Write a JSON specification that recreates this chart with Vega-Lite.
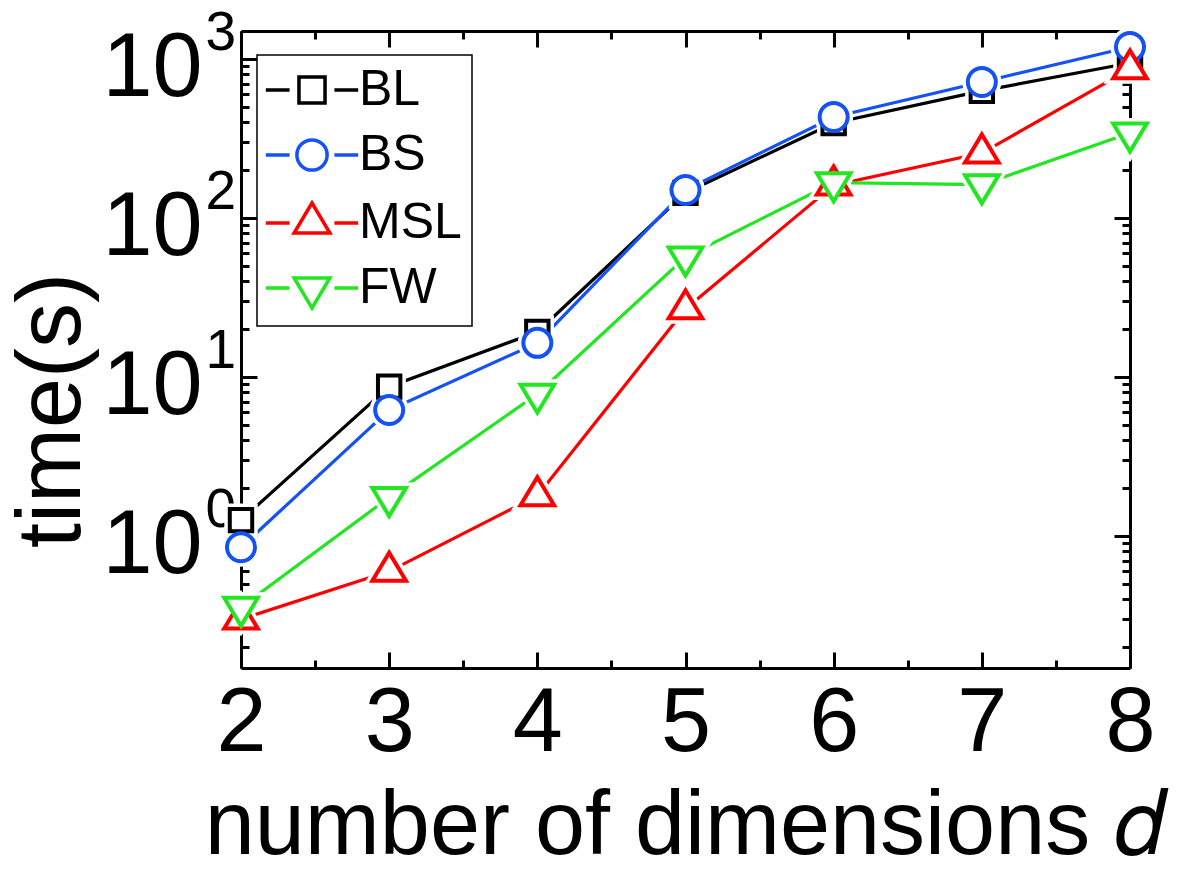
{
  "$schema": "https://vega.github.io/schema/vega-lite/v6.json",
  "width": 889,
  "height": 637,
  "autosize": {"type": "none"},
  "padding": {"left": 241, "top": 31, "right": 54, "bottom": 203},
  "background": "white",
  "data": {
    "values": [
      {"d": 2, "t": 1.26, "s": "BL"}, {"d": 3, "t": 8.7, "s": "BL"}, {"d": 4, "t": 19.2, "s": "BL"}, {"d": 5, "t": 144, "s": "BL"}, {"d": 6, "t": 396, "s": "BL"}, {"d": 7, "t": 630, "s": "BL"}, {"d": 8, "t": 944, "s": "BL"},
      {"d": 2, "t": 0.85, "s": "BS"}, {"d": 3, "t": 6.2, "s": "BS"}, {"d": 4, "t": 16.4, "s": "BS"}, {"d": 5, "t": 150, "s": "BS"}, {"d": 6, "t": 432, "s": "BS"}, {"d": 7, "t": 717, "s": "BS"}, {"d": 8, "t": 1189, "s": "BS"},
      {"d": 2, "t": 0.3, "s": "MSL"}, {"d": 3, "t": 0.6, "s": "MSL"}, {"d": 4, "t": 1.79, "s": "MSL"}, {"d": 5, "t": 26.8, "s": "MSL"}, {"d": 6, "t": 161, "s": "MSL"}, {"d": 7, "t": 256, "s": "MSL"}, {"d": 8, "t": 865, "s": "MSL"},
      {"d": 2, "t": 0.357, "s": "FW"}, {"d": 3, "t": 1.75, "s": "FW"}, {"d": 4, "t": 7.82, "s": "FW"}, {"d": 5, "t": 56.9, "s": "FW"}, {"d": 6, "t": 167, "s": "FW"}, {"d": 7, "t": 162, "s": "FW"}, {"d": 8, "t": 343, "s": "FW"}
    ]
  },
  "encoding": {
    "x": {"field": "d", "type": "quantitative", "scale": {"domain": [2, 8], "nice": false, "zero": false}},
    "y": {"field": "t", "type": "quantitative", "scale": {"type": "log", "domain": [0.148, 1500], "nice": false}}
  },
  "layer": [
    {
      "mark": {"type": "line", "strokeWidth": 3.2, "clip": false},
      "encoding": {
        "x": {
          "field": "d", "type": "quantitative",
          "axis": {
            "orient": "bottom",
            "values": [2, 2.5, 3, 3.5, 4, 4.5, 5, 5.5, 6, 6.5, 7, 7.5, 8],
            "tickSize": {"condition": {"test": "datum.value % 1 === 0", "value": -16}, "value": -8},
            "labelExpr": "datum.value % 1 === 0 ? '' + datum.value : ''",
            "labelBaseline": "alphabetic",
            "labelPadding": 98,
            "title": "number of dimensions 𝑑",
            "titleBaseline": "alphabetic",
            "titleY": 185
          }
        },
        "y": {
          "field": "t", "type": "quantitative",
          "axis": {
            "orient": "left",
            "values": [0.2, 0.3, 0.4, 0.5, 0.6, 0.7, 0.8, 0.9, 1, 2, 3, 4, 5, 6, 7, 8, 9, 10, 20, 30, 40, 50, 60, 70, 80, 90, 100, 200, 300, 400, 500, 600, 700, 800, 900, 1000],
            "tickSize": {"condition": {"test": "abs(log(datum.value)/LN10 - round(log(datum.value)/LN10)) < 0.000001", "value": -16}, "value": -8},
            "labelExpr": "abs(log(datum.value)/LN10 - round(log(datum.value)/LN10)) < 0.000001 ? '10' : ''",
            "labelBaseline": "alphabetic",
            "labelOffset": 36,
            "labelPadding": 55,
            "title": "time(s)",
            "titleBaseline": "alphabetic",
            "titleAngle": -90,
            "titleAlign": "center",
            "titleX": -162,
            "titleY": 379
          }
        },
        "stroke": {"field": "s", "type": "nominal", "legend": null,
          "scale": {"domain": ["FW", "MSL", "BS", "BL"], "range": ["#22E622", "#FF0000", "#1452F5", "#000000"]}},
        "detail": {"field": "s"}
      }
    },
    {
      "mark": {"type": "point", "filled": false, "size": 784, "strokeWidth": 11, "stroke": "white", "fill": "white", "opacity": 1, "clip": false},
      "encoding": {
        "x": {"field": "d", "type": "quantitative", "axis": null},
        "y": {
          "field": "t", "type": "quantitative",
          "axis": {
            "orient": "left",
            "values": [1, 10, 100, 1000],
            "ticks": false,
            "domain": false,
            "labelExpr": "'' + round(log(datum.value)/LN10)",
            "labelFontSize": 55,
            "labelAlign": "left",
            "labelBaseline": "alphabetic",
            "labelOffset": -10,
            "labelPadding": 36,
            "title": null
          }
        },
        "shape": {"field": "s", "type": "nominal", "legend": null,
          "scale": {"domain": ["FW", "MSL", "BS", "BL"], "range": ["M-1.2,-0.667L1.2,-0.667L0,1.333Z", "M-1.2,0.667L1.2,0.667L0,-1.333Z", "circle", "M-0.8,-0.8H0.8V0.8H-0.8Z"]}}
      }
    },
    {
      "mark": {"type": "point", "filled": false, "size": 784, "strokeWidth": 4, "fill": "white", "opacity": 1, "clip": false},
      "encoding": {
        "x": {
          "field": "d", "type": "quantitative",
          "axis": {
            "orient": "top",
            "values": [2, 2.5, 3, 3.5, 4, 4.5, 5, 5.5, 6, 6.5, 7, 7.5, 8],
            "tickSize": {"condition": {"test": "datum.value % 1 === 0", "value": -16}, "value": -8},
            "labels": false,
            "title": null
          }
        },
        "y": {
          "field": "t", "type": "quantitative",
          "axis": {
            "orient": "right",
            "values": [0.2, 0.3, 0.4, 0.5, 0.6, 0.7, 0.8, 0.9, 1, 2, 3, 4, 5, 6, 7, 8, 9, 10, 20, 30, 40, 50, 60, 70, 80, 90, 100, 200, 300, 400, 500, 600, 700, 800, 900, 1000],
            "tickSize": {"condition": {"test": "abs(log(datum.value)/LN10 - round(log(datum.value)/LN10)) < 0.000001", "value": -16}, "value": -8},
            "labels": false,
            "title": null
          }
        },
        "color": {"field": "s", "type": "nominal", "legend": null,
          "scale": {"domain": ["BL", "BS", "MSL", "FW"], "range": ["#000000", "#1452F5", "#FF0000", "#22E622"]}},
        "shape": {"field": "s", "type": "nominal", "legend": null,
          "scale": {"domain": ["BL", "BS", "MSL", "FW"], "range": ["M-0.8,-0.8H0.8V0.8H-0.8Z", "circle", "M-1.2,0.667L1.2,0.667L0,-1.333Z", "M-1.2,-0.667L1.2,-0.667L0,1.333Z"]}}
      }
    },
    {
      "transform": [{"filter": "datum.d < 0"}],
      "mark": {"type": "point", "filled": false, "size": 784, "strokeWidth": 3.5, "fill": "white", "opacity": 1, "clip": false},
      "encoding": {
        "x": {"field": "d", "type": "quantitative", "axis": null},
        "y": {"field": "t", "type": "quantitative", "axis": null},
        "color": {"field": "s", "type": "nominal",
          "scale": {"domain": ["BL", "BS", "MSL", "FW"], "range": ["#000000", "#1452F5", "#FF0000", "#22E622"]},
          "legend": {
            "title": null, "orient": "none", "legendX": 16, "legendY": 24, "padding": 10, "rowPadding": 15,
            "symbolSize": 784, "symbolStrokeWidth": 3.5, "symbolFillColor": "white", "symbolOffset": 20, "labelOffset": 22,
            "labelFontSize": 50, "labelFont": "Liberation Sans", "labelColor": "black", "strokeColor": "black", "fillColor": "white"
          }
        },
        "shape": {"field": "s", "type": "nominal",
          "scale": {"domain": ["BL", "BS", "MSL", "FW"], "range": [
            "M-3.3,0H-1.6M1.6,0H3.3M-0.93,-0.93H0.93V0.93H-0.93Z",
            "M-3.3,0H-1.6M1.6,0H3.3M-1.08,0A1.08,1.08,0,1,1,1.08,0A1.08,1.08,0,1,1,-1.08,0Z",
            "M-3.3,0H-1.6M1.6,0H3.3M-1.28,0.72L1.28,0.72L0,-1.43Z",
            "M-3.3,0H-1.6M1.6,0H3.3M-1.28,-0.72L1.28,-0.72L0,1.43Z"]},
          "legend": {
            "title": null, "orient": "none", "legendX": 16, "legendY": 24, "padding": 10, "rowPadding": 15,
            "symbolSize": 784, "symbolStrokeWidth": 3.5, "symbolFillColor": "white", "symbolOffset": 20, "labelOffset": 22,
            "labelFontSize": 50, "labelFont": "Liberation Sans", "labelColor": "black", "strokeColor": "black", "fillColor": "white"
          }
        }
      }
    }
  ],
  "resolve": {"axis": {"x": "independent", "y": "independent"}, "scale": {"shape": "independent", "color": "independent"}},
  "config": {
    "view": {"stroke": null},
    "font": "Liberation Sans",
    "axis": {
      "domainColor": "black",
      "domainWidth": 3,
      "tickColor": "black",
      "tickWidth": 3,
      "grid": false,
      "labelFont": "Liberation Sans",
      "labelFontSize": 90,
      "labelColor": "black",
      "labelFlush": false,
      "labelOverlap": false,
      "labelBound": false,
      "titleFont": "Liberation Sans",
      "titleFontSize": 90,
      "titleFontWeight": "normal",
      "titleColor": "black"
    },
    "legend": {"strokeWidth": 1.5}
  }
}
